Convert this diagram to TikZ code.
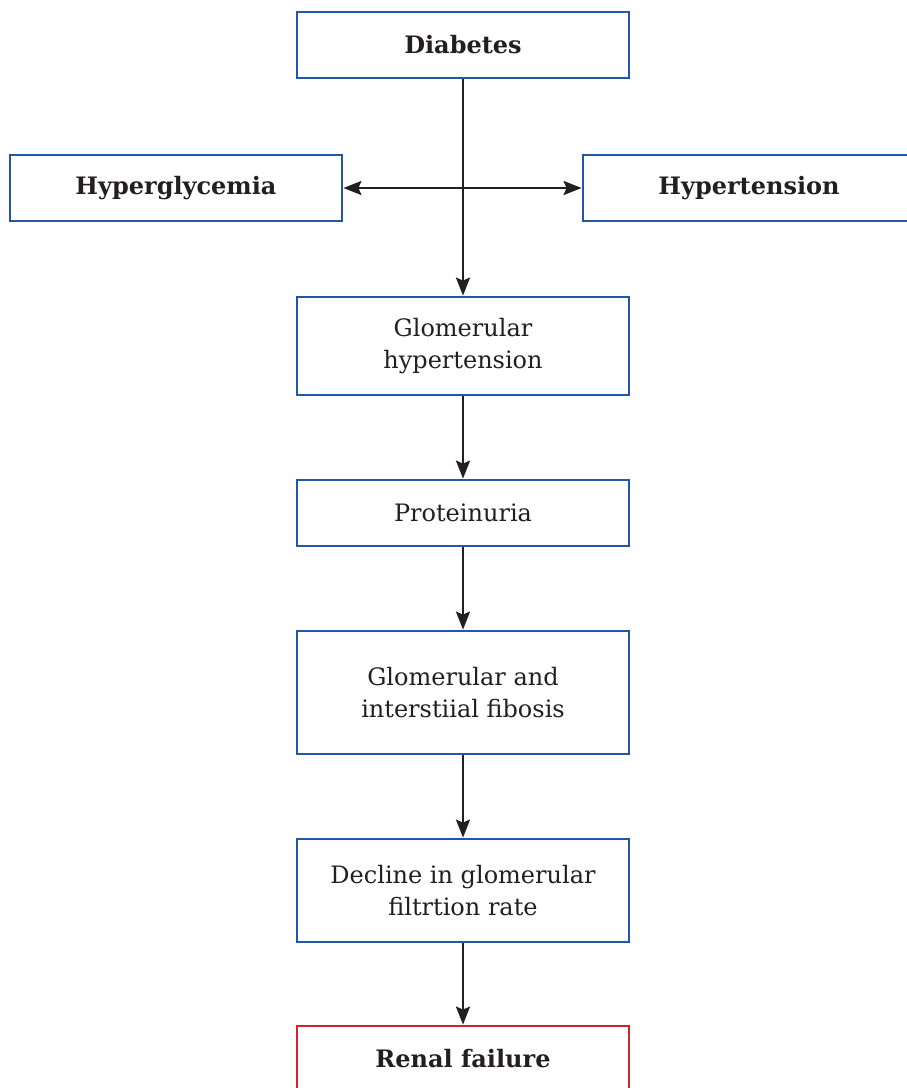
\documentclass[tikz,border=0pt]{standalone}
\usepackage{fontspec}
\setmainfont{DejaVu Serif}
\usetikzlibrary{arrows.meta}
\definecolor{boxblue}{HTML}{2456A6}
\definecolor{boxred}{HTML}{D2232A}
\definecolor{ink}{HTML}{231F20}
\tikzset{
  box/.style={draw=boxblue, line width=1.4pt, minimum width=166pt, minimum height=33pt,
    inner sep=2pt, align=center, text=ink, font=\fontsize{12}{16}\selectfont, fill=white},
  flow/.style={-{Stealth[length=9pt,width=7pt,inset=1.5pt]}, line width=1.3pt, color=ink}
}
\begin{document}
\begin{tikzpicture}[x=0.5pt,y=-0.5pt]
\useasboundingbox (0,0) rectangle (906,1088);
\node[box] (diab) at (463,45) {\textbf{Diabetes}};
\node[box] (hypg) at (176,188) {\textbf{Hyperglycemia}};
\node[box] (hypt) at (749,188) {\textbf{Hypertension}};
\node[box, minimum height=49pt] (glhy) at (463,346) {Glomerular\\hypertension};
\node[box] (prot) at (463,513) {Proteinuria};
\node[box, minimum height=61.5pt] (fibr) at (463,692.5) {Glomerular and\\interstiial fibosis};
\node[box, minimum height=51.5pt] (gfr) at (463,890.5) {Decline in glomerular\\filtrtion rate};
\node[box, draw=boxred] (renal) at (463,1059) {\textbf{Renal failure}};
% branches
\coordinate (fork) at (diab.south |- hypg.east);
\draw[flow] (diab) -- (glhy);
\draw[flow] (fork) -- (hypg);
\draw[flow] (fork) -- (hypt);
% main chain
\draw[flow] (glhy) -- (prot);
\draw[flow] (prot) -- (fibr);
\draw[flow] (fibr) -- (gfr);
\draw[flow] (gfr) -- (renal);
\end{tikzpicture}
\end{document}
